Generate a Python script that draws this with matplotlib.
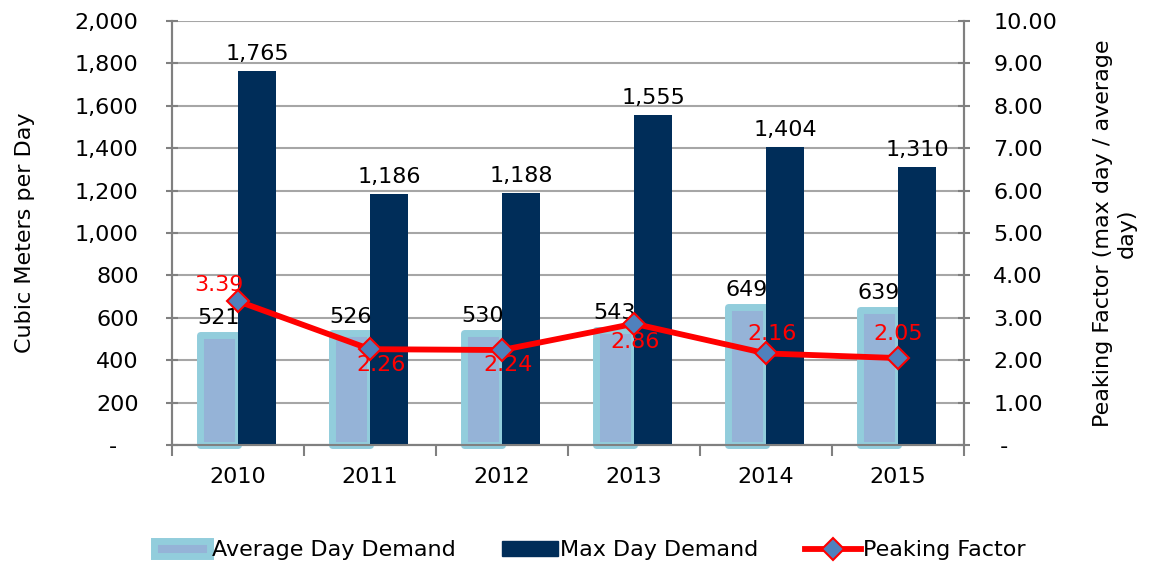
import matplotlib.pyplot as plt
import matplotlib.ticker as mticker
import numpy as np
from matplotlib.lines import Line2D
from matplotlib.patches import Patch

plt.rcParams['font.family'] = ['DejaVu Sans']

years = ['2010', '2011', '2012', '2013', '2014', '2015']
avg_demand = [521, 526, 530, 543, 649, 639]
max_demand = [1765, 1186, 1188, 1555, 1404, 1310]
peaking = [3.39, 2.26, 2.24, 2.86, 2.16, 2.05]

# label offsets for the peaking factor values (points)
pk_offsets = [(-14, 12), (8, -11.5), (4.5, -11), (1, -13.5), (4.5, 14), (0, 17)]

c_avg_edge = '#92CDDC'
c_avg_fill = '#95B3D7'
c_max = '#002D59'
c_grid = '#A6A6A6'
fs = 16

fig = plt.figure(figsize=(11.5, 5.65), dpi=100)
ax1 = fig.add_axes([0.1496, 0.2124, 0.6887, 0.7504])
ax2 = ax1.twinx()

x = np.arange(len(years))
w = 0.285
ax1.bar(x - 0.145, avg_demand, w, color=c_avg_fill, edgecolor=c_avg_edge,
        linewidth=5, joinstyle='round', clip_on=False, zorder=3)
ax1.bar(x + 0.145, max_demand, w, color=c_max, zorder=3)

for i in range(len(years)):
    ax1.annotate(f'{avg_demand[i]:,}', (x[i] - 0.145, avg_demand[i]),
                 xytext=(0, 5), textcoords='offset points',
                 ha='center', va='bottom', fontsize=fs, zorder=4)
    ax1.annotate(f'{max_demand[i]:,}', (x[i] + 0.145, max_demand[i]),
                 xytext=(0, 5), textcoords='offset points',
                 ha='center', va='bottom', fontsize=fs, zorder=4)

ax1.set_xlim(-0.5, len(years) - 0.5)
ax1.set_ylim(0, 2000)
ax1.yaxis.set_major_locator(mticker.MultipleLocator(200))
ax1.yaxis.set_major_formatter(mticker.FuncFormatter(
    lambda v, p: '-   ' if v == 0 else f'{int(v):,}'))
ax1.grid(axis='y', color=c_grid, linewidth=1.5, zorder=0)
ax1.set_axisbelow(True)
ax1.set_xticks(x)
ax1.set_xticklabels(years, fontsize=fs)
ax1.set_xticks(np.arange(len(years) + 1) - 0.5, minor=True)
ax1.tick_params(axis='x', which='major', length=0, pad=16)
ax1.tick_params(axis='x', which='minor', length=8, width=1.5, color='#808080', direction='out')
ax1.tick_params(axis='y', labelsize=fs, length=8, width=1.5, color='#808080',
                direction='inout', pad=20)
ax1.set_ylabel('Cubic Meters per Day', fontsize=fs, labelpad=29)

ax2.plot(x, peaking, color='#FF0000', linewidth=4.2, marker='D', markersize=11,
         markerfacecolor='#4F81BD', markeredgecolor='#FF0000', markeredgewidth=1.5,
         zorder=5, clip_on=False)
for i in range(len(years)):
    ax2.annotate(f'{peaking[i]:.2f}', (x[i], peaking[i]), xytext=pk_offsets[i],
                 textcoords='offset points', ha='center', va='center',
                 color='#FF0000', fontsize=fs, zorder=6)
ax2.set_ylim(0, 10)
ax2.yaxis.set_major_locator(mticker.MultipleLocator(1))
ax2.yaxis.set_major_formatter(mticker.FuncFormatter(
    lambda v, p: ' -' if v == 0 else f'{v:.2f}'))
ax2.tick_params(axis='y', labelsize=fs, length=8, width=1.5, color='#808080',
                direction='inout', pad=17)
ax2.set_ylabel('Peaking Factor (max day / average\nday)', fontsize=fs,
               labelpad=26, ha='center', multialignment='center')

for ax in (ax1, ax2):
    ax.spines['top'].set_visible(False)
    for s in ('left', 'right', 'bottom'):
        ax.spines[s].set_color('#808080')
        ax.spines[s].set_linewidth(1.5)

handles = [
    Patch(facecolor=c_avg_fill, edgecolor=c_avg_edge, linewidth=5, joinstyle='round'),
    Patch(facecolor=c_max, edgecolor=c_max),
    Line2D([], [], color='#FF0000', linewidth=4.2, marker='D', markersize=11,
           markerfacecolor='#4F81BD', markeredgecolor='#FF0000', markeredgewidth=1.5),
]
labels = ['Average Day Demand', 'Max Day Demand', 'Peaking Factor']
fig.legend(handles, labels, loc='center', bbox_to_anchor=(0.513, 0.026), ncol=3,
           frameon=False, fontsize=fs, handlelength=2.5, handleheight=0.7,
           handletextpad=0.1, columnspacing=2.1, borderaxespad=0)

fig.savefig('out.png', dpi=100)
